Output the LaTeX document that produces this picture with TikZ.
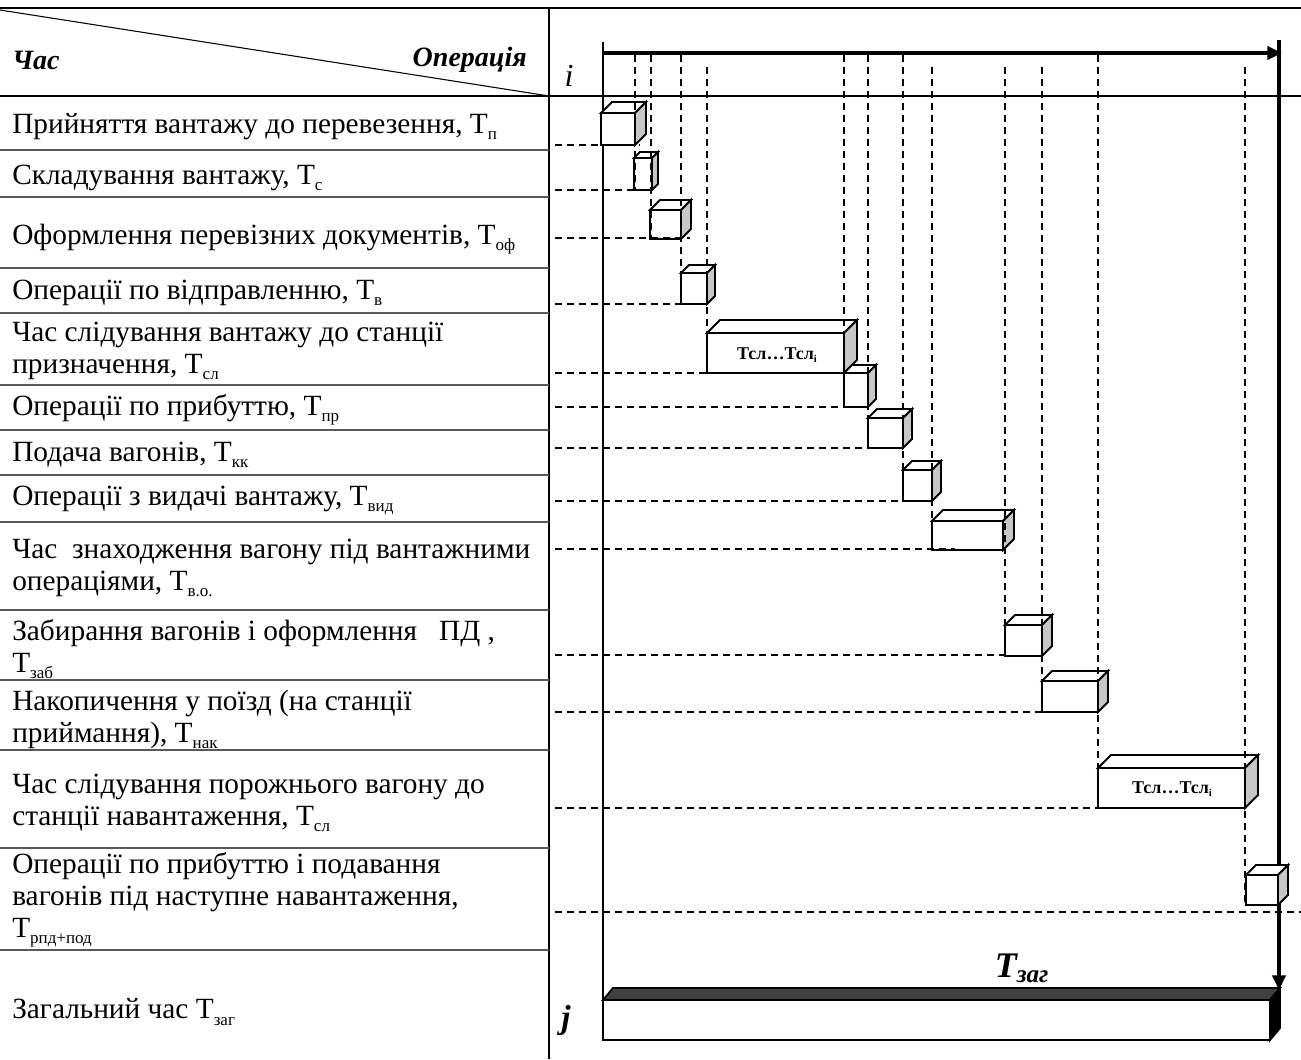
\documentclass[tikz,border=0pt]{standalone}
\usepackage{fontspec}
\setmainfont{Liberation Serif}
\usetikzlibrary{arrows.meta}
\tikzset{
  cubeline/.style={line width=1.4pt},
  gridline/.style={line width=1pt},
  rowline/.style={line width=1pt, black!65},
  timedash/.style={line width=1.9pt, dash pattern=on 5.5pt off 3.5pt},
  timearrow/.style={line width=2.4pt, -{Triangle[length=11pt, width=10pt]}},
  oplabel/.style={anchor=west, align=left, inner sep=0pt, font=\fontsize{22}{24}\selectfont},
  headtext/.style={inner sep=0pt, font=\fontsize{21}{24}\selectfont\bfseries\itshape},
  boxtext/.style={inner sep=0pt, font=\fontsize{13.5}{15}\selectfont\bfseries},
}
\newcommand{\lowidx}[1]{\raisebox{-0.45ex}{\scalebox{0.58}{#1}}}
% x1, y1, x2, y2, depth
\newcommand{\cuboid}[5]{%
  \draw[cubeline, fill=white] (#1,#2) -- (#1+#5,#2-#5) -- (#3+#5,#2-#5) -- (#3,#2) -- cycle;
  \draw[cubeline, fill=black!22] (#3,#2) -- (#3+#5,#2-#5) -- (#3+#5,#4-#5) -- (#3,#4) -- cycle;
  \draw[cubeline, fill=white] (#1,#2) rectangle (#3,#4);}
\begin{document}
\begin{tikzpicture}[x=0.75pt, y=-0.75pt]
  \useasboundingbox (0,0) rectangle (1301,1059);
  % table frame
  \draw[gridline] (0,8) -- (1301,8);
  \draw[gridline] (0,96) -- (1301,96);
  \draw[line width=1.3pt] (549,8) -- (549,1059);
  \draw[line width=0.8pt] (0,10) -- (549,96);
  \foreach \y in {150,197,268,313,385,430,475,522,610,680,750,848,950}
    \draw[rowline] (0,\y) -- (549,\y);
  % header
  \node[headtext, anchor=west] (chas) at (12,60) {Час};
  \node[headtext, anchor=east] (operatsiia) at (527,60) {Операція};
  \node[inner sep=0pt, font=\fontsize{24}{26}\selectfont\itshape] (i) at (569,76) {i};
  \node[inner sep=0pt, font=\fontsize{25}{28}\selectfont\bfseries\itshape] (j) at (566,1020) {j};
  % operations
  \node[oplabel] (op1) at (12,127) {Прийняття вантажу до перевезення, Т\lowidx{п}};
  \node[oplabel] (op2) at (12,178) {Складування вантажу, Т\lowidx{с}};
  \node[oplabel] (op3) at (12,239) {Оформлення перевізних документів, Т\lowidx{оф}};
  \node[oplabel] (op4) at (12,293) {Операції по відправленню, Т\lowidx{в}};
  \node[oplabel] (op5) at (12,351) {Час слідування вантажу до станції\\призначення, Т\lowidx{сл}};
  \node[oplabel] (op6) at (12,410) {Операції по прибуттю, Т\lowidx{пр}};
  \node[oplabel] (op7) at (12,455) {Подача вагонів, Т\lowidx{кк}};
  \node[oplabel] (op8) at (12,500) {Операції з видачі вантажу, Т\lowidx{вид}};
  \node[oplabel] (op9) at (12,568) {Час\ \ знаходження вагону під вантажними\\операціями, Т\lowidx{в.о.}};
  \node[oplabel] (op10) at (12,649) {Забирання вагонів і оформлення\ \ \ ПД ,\\Т\lowidx{заб}};
  \node[oplabel] (op11) at (12,719) {Накопичення у поїзд (на станції\\приймання), Т\lowidx{нак}};
  \node[oplabel] (op12) at (12,803) {Час слідування порожнього вагону до\\станції навантаження, Т\lowidx{сл}};
  \node[oplabel] (op13) at (12,900) {Операції по прибуттю і подавання\\вагонів під наступне навантаження,\\Т\lowidx{рпд+под}};
  \node[oplabel] (op14) at (12,1012) {Загальний час Т\lowidx{заг}};
  % time axes
  \draw[line width=1pt] (603,42) -- (603,1000);
  \draw[timearrow] (603,53) -- (1282,53);
  \draw[timearrow] (1279,40) -- (1279,990);
  % operation cuboids
  \foreach \xa/\ya/\xb/\yb/\d in {601/113/635/145/11, 634/158/652/190/6,
      650/210/681/239/10, 681/273/707/304/8, 707/333/844/373/13,
      844/373/868/407/8, 868/418/903/448/9, 903/470/932/501/9,
      932/521/1003/550/11, 1005/625/1042/656/10, 1042/681/1098/712/10,
      1098/768/1245/808/13, 1246/875/1278/905/10}
    \cuboid{\xa}{\ya}{\xb}{\yb}{\d};
  \node[boxtext] (tsl1) at (777,355) {Тсл…Тсл\lowidx{і}};
  \node[boxtext] (tsl2) at (1172,789) {Тсл…Тсл\lowidx{і}};
  % time marks
  \foreach \x/\ya/\yb in {635/55/190, 651/55/239, 681/55/304, 707/67/373,
      844/55/407, 868/55/448, 903/55/501, 932/67/550, 1005/67/656,
      1042/67/712, 1098/55/808, 1245/67/905}
    \draw[timedash] (\x,\ya) -- (\x,\yb);
  \foreach \y/\xe in {145/640, 190/652, 238/690, 304/700, 373/720, 407/860,
      448/880, 501/920, 549/955, 655/1010, 712/1070, 808/1150, 912/1301}
    \draw[timedash] (555,\y) -- (\xe,\y);
  % total time bar
  \draw[cubeline, fill=black!75] (603,1000) -- (613,988) -- (1280,988) -- (1270,1000) -- cycle;
  \draw[cubeline, fill=black] (1270,1000) -- (1280,988) -- (1280,1028) -- (1270,1040) -- cycle;
  \draw[cubeline, fill=white] (603,1000) rectangle (1270,1040);
  \node[inner sep=0pt, font=\fontsize{27}{30}\selectfont\bfseries\itshape] (tzag) at (1022,968) {T\textsubscript{заг}};
\end{tikzpicture}
\end{document}
